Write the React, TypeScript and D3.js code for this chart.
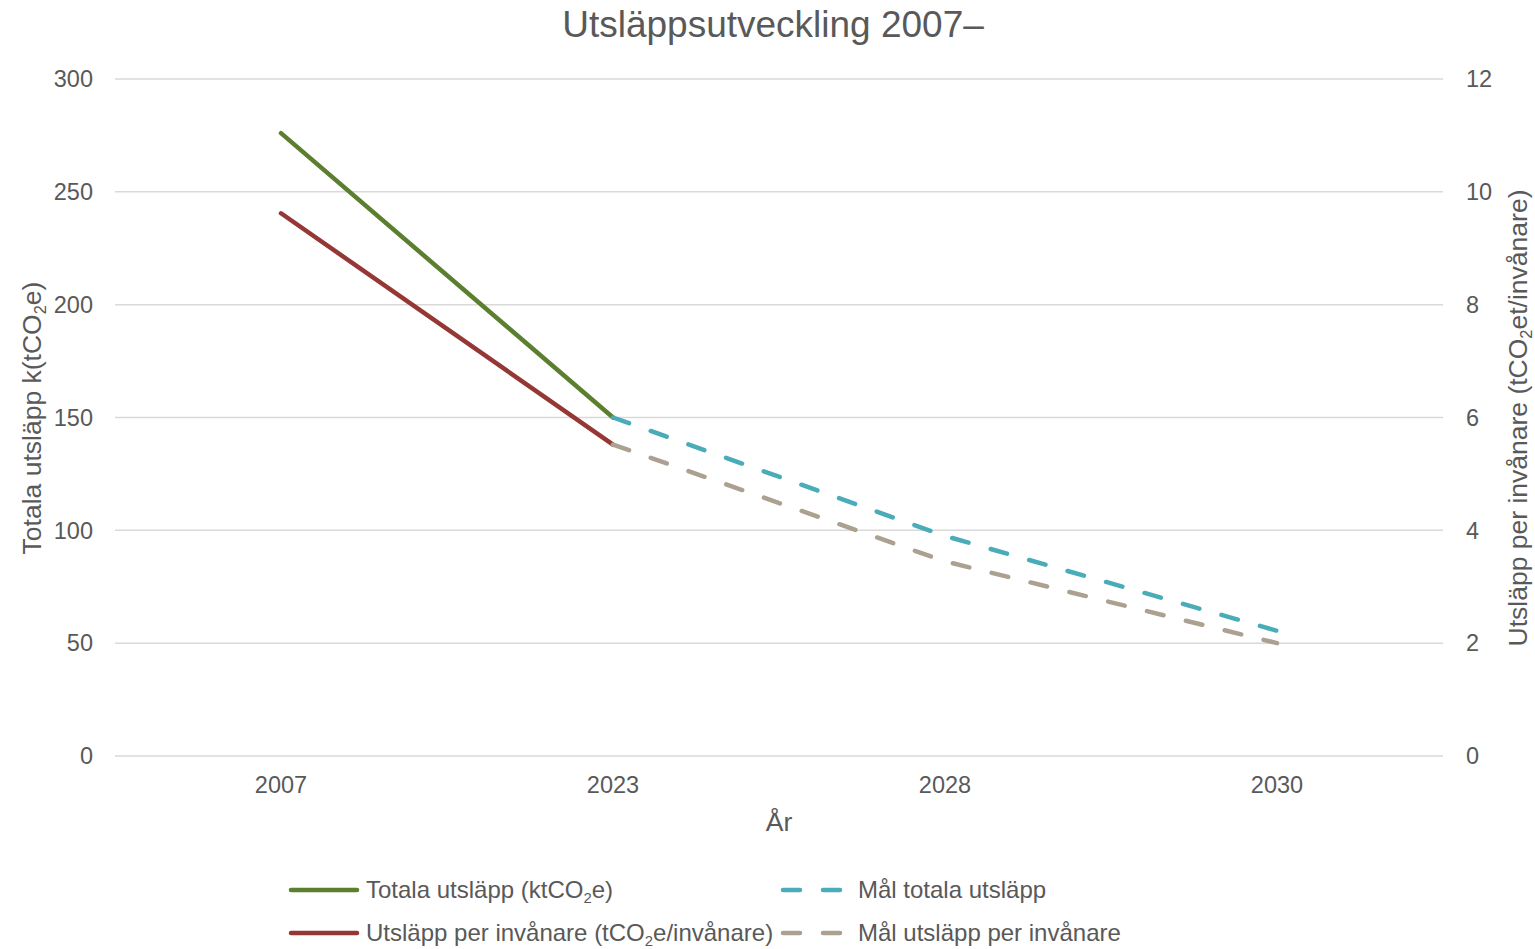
import * as d3 from "d3";

const years = ["2007", "2023", "2028", "2030"];
// left axis (kt CO2e)
const totala = [276, 150, null, null];
const malTotala = [null, 150, 97.5, 55.5];
// right axis (t CO2e / invånare)
const perInvanare = [9.62, 5.52, null, null];
const malPerInvanare = [null, 5.52, 3.45, 2.0];
const leftTicks = [0, 50, 100, 150, 200, 250, 300];
const rightTicks = [0, 2, 4, 6, 8, 10, 12];

const W = 1535;
const H = 949;
const margin = { top: 79, right: 92, bottom: 193, left: 115 };
const FONT = "'Liberation Sans', Arial, sans-serif";
const TEXT = "#595959";

const series = [
  { name: "Totala utsläpp (ktCO₂e)", values: totala, axis: "left", color: "#5b7e2f", dash: null },
  { name: "Utsläpp per invånare (tCO₂e/invånare)", values: perInvanare, axis: "right", color: "#953735", dash: null },
  { name: "Mål totala utsläpp", values: malTotala, axis: "left", color: "#4bacb9", dash: "17 23" },
  { name: "Mål utsläpp per invånare", values: malPerInvanare, axis: "right", color: "#aca190", dash: "17 23" },
];

function Sub({ pre, post, size }: { pre: string; post: string; size: number }) {
  return (
    <>
      {pre}
      <tspan fontSize={size * 0.62} dy={size * 0.18}>2</tspan>
      <tspan dy={-size * 0.18}>{post}</tspan>
    </>
  );
}

export default function App() {
  const x = d3
    .scalePoint()
    .domain(years)
    .range([margin.left, W - margin.right])
    .padding(0.5);
  const yL = d3.scaleLinear([0, 300], [H - margin.bottom, margin.top]);
  const yR = d3.scaleLinear([0, 12], [H - margin.bottom, margin.top]);

  const makeLine = (axis: string) =>
    d3
      .line<any>()
      .defined((d) => d[1] != null)
      .x((d) => x(d[0]))
      .y((d) => (axis === "left" ? yL(d[1]) : yR(d[1])));

  const tickSize = 23.5;
  const legSize = 24;
  const axSize = 26.5;

  return (
    <svg
      width={W}
      height={H}
      style={{ position: "absolute", left: 0, top: 0, background: "#fff" }}
      fontFamily={FONT}
    >
      <text x={773} y={37} textAnchor="middle" fontSize={37} fill={TEXT}>
        Utsläppsutveckling 2007–
      </text>

      {leftTicks.map((t) => (
        <line
          key={"g" + t}
          x1={margin.left}
          x2={W - margin.right}
          y1={yL(t)}
          y2={yL(t)}
          stroke="#d9d9d9"
          strokeWidth={1.5}
        />
      ))}

      {leftTicks.map((t) => (
        <text key={"l" + t} x={93} y={yL(t)} dy="0.35em" textAnchor="end" fontSize={tickSize} fill={TEXT}>
          {t}
        </text>
      ))}
      {rightTicks.map((t) => (
        <text key={"r" + t} x={1466} y={yR(t)} dy="0.35em" textAnchor="start" fontSize={tickSize} fill={TEXT}>
          {t}
        </text>
      ))}
      {years.map((yr) => (
        <text key={yr} x={x(yr)} y={793} textAnchor="middle" fontSize={tickSize} fill={TEXT}>
          {yr}
        </text>
      ))}

      <text x={779} y={831} textAnchor="middle" fontSize={axSize} fill={TEXT}>
        År
      </text>
      <text
        transform={`translate(41,418) rotate(-90)`}
        textAnchor="middle"
        fontSize={axSize}
        fill={TEXT}
      >
        <Sub pre="Totala utsläpp k(tCO" post="e)" size={axSize} />
      </text>
      <text
        transform={`translate(1527,418) rotate(-90)`}
        textAnchor="middle"
        fontSize={axSize}
        fill={TEXT}
      >
        <Sub pre="Utsläpp per invånare (tCO" post="et/invånare)" size={axSize} />
      </text>

      {series.map((s) => (
        <path
          key={s.name}
          d={makeLine(s.axis)(years.map((yr, i) => [yr, s.values[i]]))}
          fill="none"
          stroke={s.color}
          strokeWidth={4.5}
          strokeLinecap="round"
          strokeDasharray={s.dash ?? undefined}
        />
      ))}

      {/* legend */}
      {series.map((s, i) => {
        const col = i < 2 ? 0 : 1;
        const row = i % 2;
        const lx = col === 0 ? 291 : 783;
        const ly = row === 0 ? 890 : 933;
        const label =
          i === 0 ? (
            <Sub pre="Totala utsläpp (ktCO" post="e)" size={legSize} />
          ) : i === 1 ? (
            <Sub pre="Utsläpp per invånare (tCO" post="e/invånare)" size={legSize} />
          ) : (
            s.name
          );
        return (
          <g key={"leg" + i}>
            <line
              x1={lx}
              x2={lx + 66}
              y1={ly}
              y2={ly}
              stroke={s.color}
              strokeWidth={4.5}
              strokeLinecap="round"
              strokeDasharray={s.dash ?? undefined}
            />
            <text x={lx + 75} y={ly} dy="0.35em" fontSize={legSize} fill={TEXT}>
              {label}
            </text>
          </g>
        );
      })}
    </svg>
  );
}
